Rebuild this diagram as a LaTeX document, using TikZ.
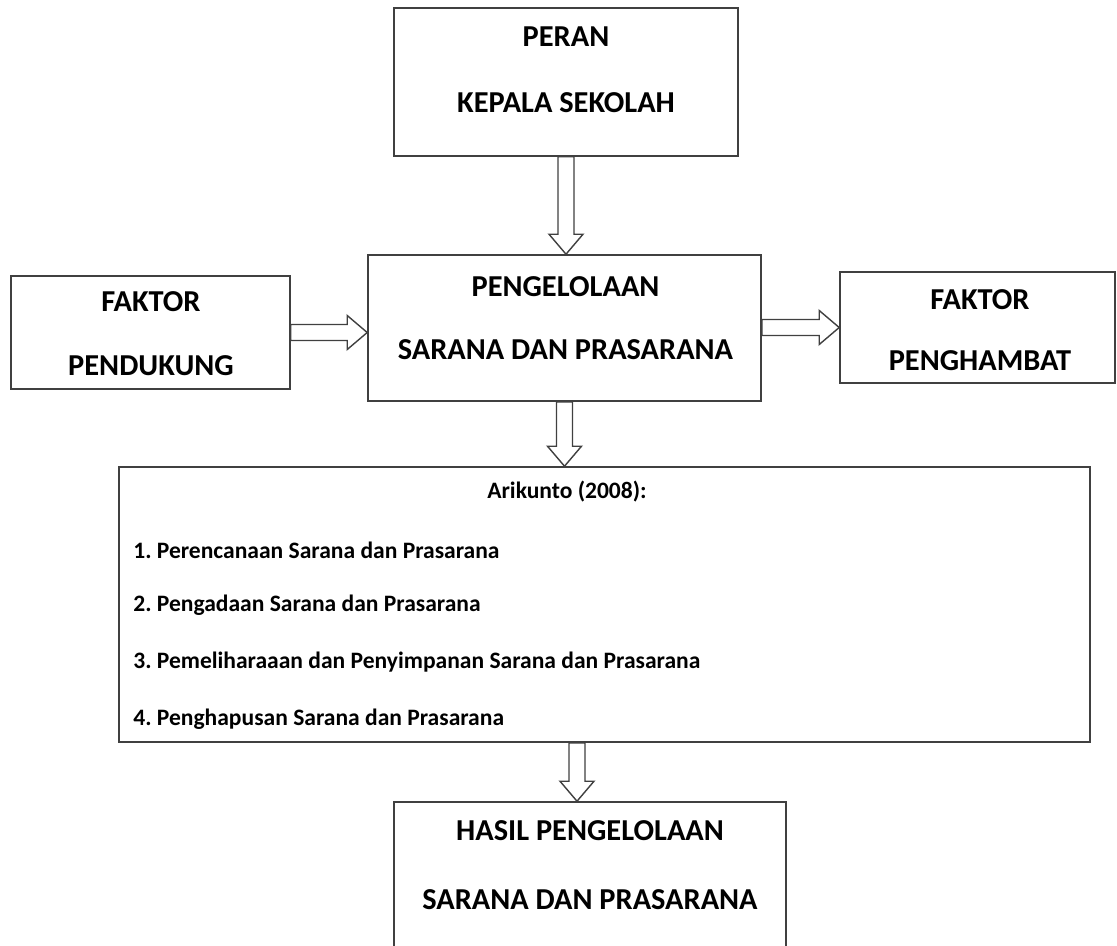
\documentclass[tikz,border=0pt]{standalone}
\usepackage{fontspec}
\setmainfont{Carlito}
\usetikzlibrary{calc}
\frenchspacing

\tikzset{
  kotak/.style={draw=black!75, line width=0.9pt, rectangle, minimum width=#1},
  judul/.style={font=\fontsize{17.3}{20}\selectfont\bfseries, inner sep=0pt},
  isi/.style={font=\fontsize{13.4}{15}\selectfont\bfseries, anchor=west, inner sep=0pt},
  panah/.style={draw=black!75, line width=0.8pt, fill=white, line join=miter},
}

% panah tebal berongga dari #1 ke #2
\newcommand{\panahtebal}[2]{%
  \coordinate (pa) at (#1);
  \coordinate (pb) at (#2);
  \coordinate (ph) at ($(pb)!0.4cm!(pa)$);
  \draw[panah] ($(pa)!0.16cm!90:(pb)$) -- ($(ph)!0.16cm!-90:(pa)$)
    -- ($(ph)!0.34cm!-90:(pa)$) -- (pb) -- ($(ph)!0.34cm!90:(pa)$)
    -- ($(ph)!0.16cm!90:(pa)$) -- ($(pa)!0.16cm!-90:(pb)$) -- cycle;
}

\begin{document}
\begin{tikzpicture}
  \useasboundingbox (0,0) rectangle (22.34,-18.9);

  % kotak-kotak
  \node[kotak=6.88cm, minimum height=2.96cm] (peran) at (11.32,-1.64) {};
  \node[kotak=7.86cm, minimum height=2.92cm] (kelola) at (11.29,-6.56) {};
  \node[kotak=5.58cm, minimum height=2.26cm] (pendukung) at (3.01,-6.65) {};
  \node[kotak=5.5cm, minimum height=2.22cm] (penghambat) at (19.55,-6.55) {};
  \node[kotak=19.42cm, minimum height=5.5cm] (daftar) at (12.09,-12.09) {};
  \node[kotak=7.84cm, minimum height=3.2cm] (hasil) at (11.8,-17.64) {};

  % tulisan
  \node[judul] (peranA) at (11.32,-0.74) {PERAN};
  \node[judul] (peranB) at (11.32,-2.06) {KEPALA SEKOLAH};
  \node[judul] (kelolaA) at (11.31,-5.74) {PENGELOLAAN};
  \node[judul] (kelolaB) at (11.31,-7.0) {SARANA DAN PRASARANA};
  \node[judul] (pendukungA) at (3.02,-6.04) {FAKTOR};
  \node[judul] (pendukungB) at (3.02,-7.32) {PENDUKUNG};
  \node[judul] (penghambatA) at (19.6,-6.0) {FAKTOR};
  \node[judul] (penghambatB) at (19.6,-7.22) {PENGHAMBAT};
  \node[judul] (hasilA) at (11.8,-16.62) {HASIL PENGELOLAAN};
  \node[judul] (hasilB) at (11.8,-18.0) {SARANA DAN PRASARANA};

  \node[isi, anchor=center] (sumber) at (11.34,-9.84) {Arikunto (2008):};
  \node[isi] (langkah1) at (2.66,-11.0) {1. Perencanaan Sarana dan Prasarana};
  \node[isi] (langkah2) at (2.66,-12.1) {2. Pengadaan Sarana dan Prasarana};
  \node[isi] (langkah3) at (2.66,-13.24) {3. Pemeliharaaan dan Penyimpanan Sarana dan Prasarana};
  \node[isi] (langkah4) at (2.66,-14.38) {4. Penghapusan Sarana dan Prasarana};

  % panah
  \panahtebal{peran.south}{peran.south |- kelola.north}
  \panahtebal{pendukung.east}{pendukung.east -| kelola.west}
  \panahtebal{penghambat.west -| kelola.east}{penghambat.west}
  \panahtebal{kelola.south}{kelola.south |- daftar.north}
  \coordinate (ujung) at ([xshift=-0.26cm]hasil.north);
  \panahtebal{ujung |- daftar.south}{ujung}
\end{tikzpicture}
\end{document}
